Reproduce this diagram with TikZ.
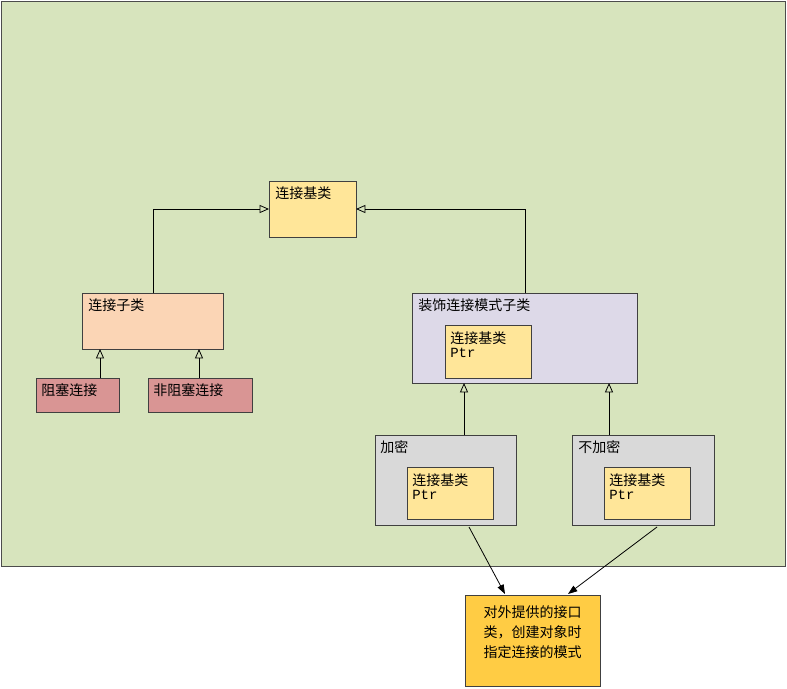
\documentclass[tikz,border=0pt]{standalone}
\usepackage{fontspec}
\setmainfont{Noto Sans CJK SC}
\newfontfamily\monof{Liberation Mono}
\usetikzlibrary{arrows.meta}
\definecolor{bg}{HTML}{D7E4BD}
\definecolor{yel}{HTML}{FFE699}
\definecolor{peach}{HTML}{FBD5B5}
\definecolor{rose}{HTML}{D99594}
\definecolor{lav}{HTML}{DDD9E8}
\definecolor{grayb}{HTML}{D9D9D9}
\definecolor{gold}{HTML}{FFCC44}
\begin{document}
\begin{tikzpicture}[x=0.75pt,y=-0.75pt,
  box/.style={draw=black!75,line width=0.6pt},
  lbl/.style={anchor=north west,inner sep=0pt,font=\fontsize{10.5}{13}\selectfont,align=left},
  inh/.style={draw=black,line width=0.6pt,-{Triangle[open,length=7pt,width=6pt]}},
  dep/.style={draw=black,line width=0.6pt,-{Triangle[length=7pt,width=5pt]}}]
\useasboundingbox (0,0) rectangle (787,688);
\fill[white] (0,0) rectangle (787,688);
\draw[fill=bg,draw=black!70] (1,1) rectangle (785,566);
% nodes
\draw[box,fill=yel] (269,181) rectangle (356,237); \node[lbl] (b) at (275,186) {连接基类};
\coordinate (bL) at (269,209); \coordinate (bR) at (356,209);
\draw[box,fill=peach] (82,293) rectangle (223,349); \node[lbl] (c) at (88,298) {连接子类};
\draw[box,fill=rose] (36,378) rectangle (119,412); \node[lbl] (d) at (41,383) {阻塞连接};
\draw[box,fill=rose] (148,378) rectangle (252,412); \node[lbl] (e) at (153,383) {非阻塞连接};
\draw[box,fill=lav] (412,293) rectangle (637,383); \node[lbl] (f) at (418,298) {装饰连接模式子类};
\draw[box,fill=yel] (445,325) rectangle (531,378); \node[lbl] (f2) at (450,331) {连接基类\\[-2pt]{\monof Ptr}};
\draw[box,fill=grayb] (375,435) rectangle (516,525); \node[lbl] (g) at (380,440) {加密};
\draw[box,fill=yel] (407,467) rectangle (493,519); \node[lbl] (g2) at (412,473) {连接基类\\[-2pt]{\monof Ptr}};
\draw[box,fill=grayb] (572,435) rectangle (714,525); \node[lbl] (h) at (578,440) {不加密};
\draw[box,fill=yel] (604,467) rectangle (690,519); \node[lbl] (h2) at (609,473) {连接基类\\[-2pt]{\monof Ptr}};
\draw[box,fill=gold] (465,595) rectangle (600,686);
\node[font=\fontsize{10.5}{15}\selectfont,align=center] (i) at (532.5,632) {对外提供的接口\\类，创建对象时\\指定连接的模式};
% connectors
\coordinate (c1) at (153,293); \coordinate (f1) at (525,293);
\draw[inh] (c1) |- (bL);
\draw[inh] (f1) |- (bR);
\draw[inh] (100,378) -- (100,349);
\draw[inh] (199,378) -- (199,349);
\draw[inh] (464,435) -- (464,383);
\draw[inh] (609,435) -- (609,383);
\coordinate (gB) at (469,527); \coordinate (hB) at (657,527);
\coordinate (iA) at (505,594); \coordinate (iB) at (568,594);
\draw[dep] (gB) -- (iA);
\draw[dep] (hB) -- (iB);
\end{tikzpicture}
\end{document}
